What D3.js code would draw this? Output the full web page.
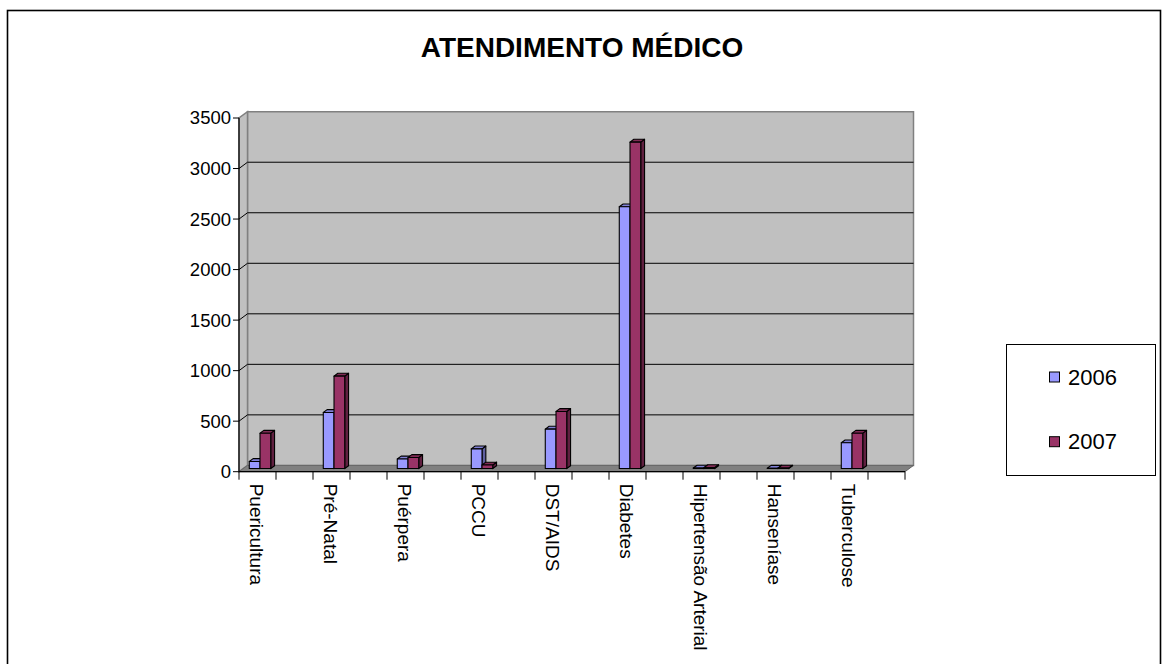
<!DOCTYPE html>
<html>
<head>
<meta charset="utf-8">
<script src="https://cdn.jsdelivr.net/npm/d3@7"></script>
<style>
  html, body { margin: 0; padding: 0; background: #fff; }
  svg { display: block; font-family: "Liberation Sans", Arial, sans-serif; }
</style>
</head>
<body>
<svg id="chart" width="1163" height="664"></svg>
<script>
// Atendimento médico por programa, 2006 x 2007
const categories = ["Puericultura", "Pré-Natal", "Puérpera", "PCCU", "DST/AIDS",
                    "Diabetes", "Hipertensão Arterial", "Hanseníase", "Tuberculose"];
const seriesNames = ["2006", "2007"];
const values2006 = [70, 555, 95, 195, 390, 2590, 5, 3, 255];
const values2007 = [350, 915, 110, 35, 565, 3230, 10, 5, 350];
const yTicks = [0, 500, 1000, 1500, 2000, 2500, 3000, 3500];
const title = "ATENDIMENTO MÉDICO";

const colors = { "2006": "#9999FF", "2007": "#993366" };
const series = [values2006, values2007];

const svg = d3.select("#chart");

// outer chart frame
svg.append("rect")
  .attr("x", 7.5).attr("y", 10.5).attr("width", 1153).attr("height", 700)
  .attr("fill", "#fff").attr("stroke", "#000").attr("stroke-width", 1.6);

svg.append("text")
  .attr("x", 582).attr("y", 57)
  .attr("text-anchor", "middle")
  .attr("font-size", 28).attr("font-weight", "bold")
  .text(title);

// oblique 3D projection: front plane plus a depth vector
const X0 = 239, X1 = 905;
const DX = 8.5, DY = 6.3;
const y = d3.scaleLinear().domain([0, 3500]).range([471.7, 118]);
// each category takes two slots (the second one is empty)
const slot = d3.scaleBand().domain(d3.range(categories.length * 2)).range([X0, X1]);
const sw = slot.bandwidth();
const inner = d3.scaleBand().domain(seriesNames).range([0.163 * sw, 0.743 * sw]);

const P = (x, v, d) => [x + d * DX, y(v) - d * DY];
const poly = pts => "M" + pts.map(p => p.join(",")).join("L") + "Z";

const wallFill = "#C0C0C0", edge = "#808080";
const vMax = yTicks[yTicks.length - 1];

// back wall
svg.append("path")
  .attr("d", poly([P(X0, 0, 1), P(X1, 0, 1), P(X1, vMax, 1), P(X0, vMax, 1)]))
  .attr("fill", wallFill).attr("stroke", edge).attr("stroke-width", 1.5);
// left side wall
svg.append("path")
  .attr("d", poly([P(X0, 0, 0), P(X0, 0, 1), P(X0, vMax, 1), P(X0, vMax, 0)]))
  .attr("fill", wallFill).attr("stroke", edge).attr("stroke-width", 1.5);

// gridlines on the back wall and the side wall
const grid = yTicks.filter(t => t > 0 && t < vMax);
svg.append("g").selectAll("path").data(grid).join("path")
  .attr("d", t => "M" + P(X0, t, 0).join(",") + "L" + P(X0, t, 1).join(",") + "L" + P(X1, t, 1).join(","))
  .attr("fill", "none").attr("stroke", "#000").attr("stroke-width", 1);

// floor
svg.append("path")
  .attr("d", poly([P(X0, 0, 0), P(X1, 0, 0), P(X1, 0, 1), P(X0, 0, 1)]))
  .attr("fill", "#808080").attr("stroke", "#666").attr("stroke-width", 1);

// value axis
svg.append("line")
  .attr("x1", X0).attr("x2", X0).attr("y1", y(0)).attr("y2", y(vMax))
  .attr("stroke", "#000").attr("stroke-width", 1.2);
const yAxis = svg.append("g");
yAxis.selectAll("line").data(yTicks).join("line")
  .attr("x1", X0 - 6).attr("x2", X0).attr("y1", d => y(d)).attr("y2", d => y(d))
  .attr("stroke", "#000");
yAxis.selectAll("text").data(yTicks).join("text")
  .attr("x", X0 - 8).attr("y", d => y(d)).attr("dy", "0.35em")
  .attr("text-anchor", "end").attr("font-size", 18.5)
  .text(d => d);

// category axis
svg.append("line")
  .attr("x1", X0).attr("x2", X1).attr("y1", y(0)).attr("y2", y(0))
  .attr("stroke", "#000").attr("stroke-width", 1.2);
const bounds = d3.range(categories.length * 2 + 1).map(i => X0 + i * sw);
svg.append("g").selectAll("line").data(bounds).join("line")
  .attr("x1", d => d).attr("x2", d => d).attr("y1", y(0)).attr("y2", y(0) + 8)
  .attr("stroke", "#000");
svg.append("g").selectAll("text").data(categories).join("text")
  .attr("transform", (d, i) => `translate(${slot(i * 2) + sw / 2 - 1},${y(0) + 12}) rotate(90)`)
  .attr("dy", "0.35em").attr("font-size", 19)
  .text(d => d);

// bars
const F0 = 0.5, F1 = 0.95;
const bars = svg.append("g");
categories.forEach((c, i) => {
  seriesNames.forEach((s, k) => {
    const v = series[k][i];
    const xl = slot(i * 2) + inner(s), xr = xl + inner.bandwidth();
    const col = d3.color(colors[s]);
    const g = bars.append("g").attr("stroke", "#000").attr("stroke-width", 1.1).attr("stroke-linejoin", "round");
    g.append("path").attr("fill", col.darker(1.3))
      .attr("d", poly([P(xr, 0, F0), P(xr, v, F0), P(xr, v, F1), P(xr, 0, F1)]));
    g.append("path").attr("fill", col.darker(0.5))
      .attr("d", poly([P(xl, v, F0), P(xr, v, F0), P(xr, v, F1), P(xl, v, F1)]));
    g.append("path").attr("fill", col)
      .attr("d", poly([P(xl, 0, F0), P(xr, 0, F0), P(xr, v, F0), P(xl, v, F0)]));
  });
});

// legend
const legend = svg.append("g");
legend.append("rect")
  .attr("x", 1006.5).attr("y", 344.5).attr("width", 149).attr("height", 131)
  .attr("fill", "#fff").attr("stroke", "#000");
const ly = d3.scalePoint().domain(seriesNames).range([377, 441.7]);
seriesNames.forEach(s => {
  legend.append("rect")
    .attr("x", 1049.5).attr("y", ly(s) - 5).attr("width", 10).attr("height", 10)
    .attr("fill", colors[s]).attr("stroke", "#000");
  legend.append("text")
    .attr("x", 1068).attr("y", ly(s)).attr("dy", "0.35em")
    .attr("font-size", 22).text(s);
});
</script>
</body>
</html>
